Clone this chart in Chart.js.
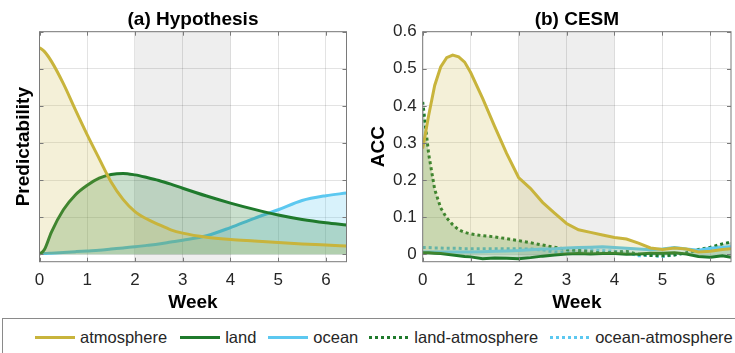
<!DOCTYPE html>
<html lang="en">
<head>
<meta charset="UTF-8" />
<title>Hypothesis vs CESM</title>
<script src="https://cdn.jsdelivr.net/npm/chart.js"></script>
<style>
  body { margin: 0; background: #fff; width: 735px; height: 353px; overflow: hidden; position: relative;
         font-family: "Liberation Sans", Arial, sans-serif; color: #262626; }
  .panel { position: absolute; top: 0; }
  #legend { position: absolute; left: 2px; top: 318px; width: 745px; height: 38px; border: 1px solid #8a8a8a;
            box-sizing: border-box; display: flex; align-items: center; font-size: 16.5px; white-space: nowrap; }
  #legend .item { display: flex; align-items: center; }
  #legend .swatch { width: 40px; height: 3px; margin-right: 5px; }
</style>
</head>
<body>
  <div class="panel" style="left:0px"><canvas id="hypo" width="367" height="316"></canvas></div>
  <div class="panel" style="left:367px"><canvas id="cesm" width="368" height="316"></canvas></div>
  <div id="legend"></div>

<script>
// axis ranges and ticks
const weekMax = 6.43;
const yMin = -0.02, yMax = 0.6;
const xTicks = [0, 1, 2, 3, 4, 5, 6];
const yTicks = [0, 0.1, 0.2, 0.3, 0.4, 0.5, 0.6];
const yTickLabels = ["0", "0.1", "0.2", "0.3", "0.4", "0.5", "0.6"];
const shadeWeeks = [2, 4];

// (a) Hypothesis
const aWeeks = [0, 0.1, 0.25, 0.5, 0.75, 1, 1.25, 1.5, 1.75, 2, 2.25, 2.5, 2.75, 3, 3.5, 4, 4.5, 5, 5.5, 6, 6.43];
const aAtmosphere = [0.557, 0.547, 0.52, 0.46, 0.39, 0.322, 0.258, 0.195, 0.148, 0.115, 0.095, 0.08, 0.066, 0.057, 0.046, 0.040, 0.036, 0.032, 0.028, 0.025, 0.022];
const aLand = [0, 0.012, 0.06, 0.12, 0.16, 0.186, 0.205, 0.215, 0.218, 0.214, 0.207, 0.199, 0.189, 0.178, 0.157, 0.138, 0.121, 0.106, 0.094, 0.085, 0.079];
const aOcean = [0.002, 0.002, 0.003, 0.005, 0.007, 0.009, 0.011, 0.014, 0.017, 0.02, 0.024, 0.028, 0.033, 0.038, 0.05, 0.072, 0.097, 0.12, 0.145, 0.158, 0.165];

// (b) CESM
const bWeeks = [0, 0.125, 0.25, 0.375, 0.5, 0.625, 0.75, 0.875, 1, 1.25, 1.5, 1.75, 2, 2.25, 2.5, 2.75, 3, 3.25, 3.5, 3.75, 4, 4.25, 4.5, 4.75, 5, 5.25, 5.5, 5.75, 6, 6.25, 6.43];
const bAtmosphere = [0.285, 0.375, 0.455, 0.505, 0.53, 0.537, 0.532, 0.518, 0.49, 0.42, 0.345, 0.272, 0.207, 0.177, 0.14, 0.111, 0.083, 0.066, 0.059, 0.052, 0.045, 0.041, 0.03, 0.017, 0.013, 0.017, 0.014, 0.006, 0.008, 0.013, 0.015];
const bLand = [0.004, 0.004, 0.003, 0.002, 0, -0.002, -0.004, -0.006, -0.007, -0.012, -0.01, -0.011, -0.012, -0.009, -0.005, -0.002, 0.001, 0.002, 0.001, 0.002, 0.002, 0, 0.001, 0.003, 0.003, 0.004, 0.001, -0.006, -0.008, -0.004, -0.008];
const bOcean = [0.006, 0.006, 0.006, 0.006, 0.006, 0.006, 0.006, 0.006, 0.006, 0.007, 0.008, 0.009, 0.01, 0.012, 0.014, 0.015, 0.017, 0.018, 0.019, 0.02, 0.018, 0.016, 0.014, 0.012, 0.014, 0.018, 0.014, 0.011, 0.016, 0.018, 0.02];
const bLandAtm = [0.411, 0.27, 0.175, 0.125, 0.098, 0.08, 0.066, 0.059, 0.055, 0.05, 0.047, 0.042, 0.037, 0.031, 0.025, 0.019, 0.013, 0.01, 0.007, 0.003, 0.006, 0.008, 0, -0.003, -0.004, -0.002, 0.004, 0.013, 0.019, 0.028, 0.033];
const bOceanAtm = [0.018, 0.018, 0.017, 0.017, 0.016, 0.016, 0.016, 0.015, 0.015, 0.015, 0.015, 0.015, 0.015, 0.014, 0.012, 0.006, 0.006, 0.01, 0.012, 0.01, 0.008, 0.004, -0.004, -0.003, -0.006, -0.002, 0.004, 0.01, 0.015, 0.016, 0.017];

const colAtm = "#c8b43c", colLand = "#1f7a2c", colOcean = "#5cc8f0";
const fillAtm = "rgba(200,180,60,0.2)", fillLand = "rgba(31,122,44,0.24)", fillOcean = "rgba(92,200,240,0.24)";
const FONT = '"Liberation Sans", Arial, sans-serif';

Chart.defaults.font.family = FONT;
Chart.defaults.color = "#262626";

function pts(xs, ys) {
  return xs.map((x, i) => ({ x: x, y: ys[i] }));
}

// grey week 2-4 band, under the grid
const shadePlugin = {
  id: "shade",
  beforeDraw(chart) {
    const { ctx, chartArea: a, scales: { x } } = chart;
    ctx.save();
    ctx.fillStyle = "#eeeeee";
    const x0 = x.getPixelForValue(shadeWeeks[0]), x1 = x.getPixelForValue(shadeWeeks[1]);
    ctx.fillRect(x0, a.top, x1 - x0, a.bottom - a.top);
    ctx.restore();
  }
};

// matlab style box with inward ticks
const boxPlugin = {
  id: "box",
  afterDraw(chart) {
    const { ctx, chartArea: a, scales: { x, y } } = chart;
    ctx.save();
    ctx.strokeStyle = "#7a7a7a";
    ctx.lineWidth = 1;
    ctx.strokeRect(a.left, a.top, a.right - a.left, a.bottom - a.top);
    ctx.beginPath();
    xTicks.forEach(v => {
      const px = Math.round(x.getPixelForValue(v)) + 0.5;
      ctx.moveTo(px, a.bottom); ctx.lineTo(px, a.bottom - 4);
      ctx.moveTo(px, a.top); ctx.lineTo(px, a.top + 4);
    });
    yTicks.forEach(v => {
      const py = Math.round(y.getPixelForValue(v)) + 0.5;
      ctx.moveTo(a.left, py); ctx.lineTo(a.left + 4, py);
      ctx.moveTo(a.right, py); ctx.lineTo(a.right - 4, py);
    });
    ctx.stroke();
    ctx.restore();
  }
};

function line(label, xs, ys, color, fill, dotted, smooth) {
  return {
    label: label,
    data: pts(xs, ys),
    borderColor: color,
    backgroundColor: fill || "transparent",
    fill: fill ? "origin" : false,
    borderWidth: 3,
    borderDash: dotted ? [3, 3] : [],
    borderCapStyle: "butt",
    pointRadius: 0,
    tension: smooth ? 0.4 : 0,
    cubicInterpolationMode: smooth ? "monotone" : "default"
  };
}

function makePanel(id, title, yTitle, datasets, opt) {
  new Chart(document.getElementById(id), {
    type: "line",
    data: { datasets: datasets },
    plugins: [shadePlugin, boxPlugin],
    options: {
      responsive: false,
      animation: false,
      layout: { padding: { left: 0, right: opt.padRight, top: 0, bottom: 0 } },
      plugins: {
        legend: { display: false },
        tooltip: { enabled: false },
        title: {
          display: true,
          text: title,
          fullSize: false,
          color: "#000",
          font: { size: 19, weight: "bold" },
          padding: { top: 8.6, bottom: 0.3 }
        }
      },
      scales: {
        x: {
          type: "linear",
          min: 0,
          max: weekMax,
          afterFit: s => { s.height = 316 - 261.7; },
          afterBuildTicks: s => { s.ticks = xTicks.map(v => ({ value: v })); },
          grid: { color: "rgba(0,0,0,0.11)", drawTicks: false },
          border: { display: false },
          ticks: { font: { size: 17 }, color: "#262626", padding: 8.1, maxRotation: 0 },
          title: { display: true, text: "Week", color: "#000", font: { size: 19, weight: "bold" }, padding: { top: 0, bottom: 1.6 } }
        },
        y: {
          type: "linear",
          min: yMin,
          max: yMax,
          afterFit: s => { s.width = opt.yWidth; },
          afterBuildTicks: s => { s.ticks = yTicks.map(v => ({ value: v })); },
          grid: { color: "rgba(0,0,0,0.11)", drawTicks: false },
          border: { display: false },
          ticks: { display: opt.yLabels, font: { size: 17 }, color: "#262626", padding: 6,
                   callback: (v, i) => yTickLabels[i] },
          title: { display: true, text: yTitle, color: "#000", font: { size: 19, weight: "bold" }, padding: { top: opt.yTitlePad, bottom: 0 } }
        }
      }
    }
  });
}

makePanel("hypo", "(a) Hypothesis", "Predictability", [
  line("atmosphere", aWeeks, aAtmosphere, colAtm, fillAtm, false, true),
  line("land", aWeeks, aLand, colLand, fillLand, false, true),
  line("ocean", aWeeks, aOcean, colOcean, fillOcean, false, true)
], { padRight: 367 - 346.5, yWidth: 39.5, yLabels: false, yTitlePad: 12.6 });

makePanel("cesm", "(b) CESM", "ACC", [
  line("atmosphere", bWeeks, bAtmosphere, colAtm, fillAtm, false, false),
  line("land", bWeeks, bLand, colLand, fillLand, false, false),
  line("ocean", bWeeks, bOcean, colOcean, fillOcean, false, false),
  line("land-atmosphere", bWeeks, bLandAtm, colLand, fillLand, true, false),
  line("ocean-atmosphere", bWeeks, bOceanAtm, colOcean, null, true, false)
], { padRight: 368 - 364, yWidth: 55.7, yLabels: true, yTitlePad: 0 });

// legend row
const legendItems = [
  { label: "atmosphere", color: colAtm, dotted: false, gap: 13 },
  { label: "land", color: colLand, dotted: false, gap: 12 },
  { label: "ocean", color: colOcean, dotted: false, gap: 11 },
  { label: "land-atmosphere", color: colLand, dotted: true, gap: 12 },
  { label: "ocean-atmosphere", color: colOcean, dotted: true, gap: 0 }
];
const legend = document.getElementById("legend");
legend.style.paddingLeft = "32px";
legendItems.forEach(it => {
  const item = document.createElement("div");
  item.className = "item";
  item.style.marginRight = it.gap + "px";
  const sw = document.createElement("span");
  sw.className = "swatch";
  sw.style.background = it.dotted
    ? "repeating-linear-gradient(to right, " + it.color + " 0 3px, transparent 3px 6px)"
    : it.color;
  const tx = document.createElement("span");
  tx.textContent = it.label;
  item.appendChild(sw);
  item.appendChild(tx);
  legend.appendChild(item);
});
</script>
</body>
</html>
